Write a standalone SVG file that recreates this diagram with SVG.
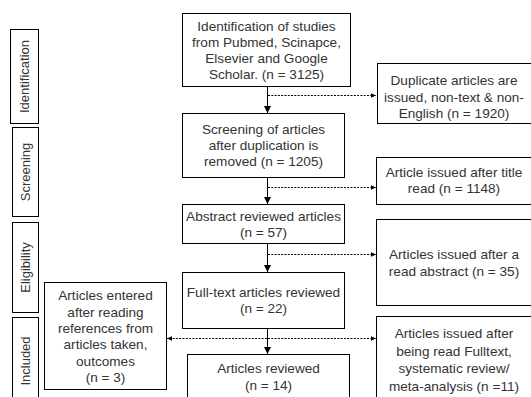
<svg xmlns="http://www.w3.org/2000/svg" width="531" height="397" viewBox="0 0 531 397">
<defs>
<style>
.box{fill:#fff;stroke:#000;stroke-width:1}
.t{font-family:"Liberation Sans",Arial,sans-serif;font-size:13.6px;fill:#333;text-anchor:middle}
.s{font-family:"Liberation Sans",Arial,sans-serif;font-size:13px;fill:#333;text-anchor:middle}
.solid{stroke:#000;stroke-width:1;fill:none}
.dash{stroke:#000;stroke-width:1;fill:none;stroke-dasharray:2 1.3}
</style>
<marker id="ah" markerWidth="8" markerHeight="8" refX="7" refY="4" orient="auto" markerUnits="userSpaceOnUse">
<path d="M0,0.5 L7,4 L0,7.5 Z" fill="#000"/>
</marker>
<marker id="ahs" markerWidth="6" markerHeight="6" refX="5" refY="3" orient="auto" markerUnits="userSpaceOnUse">
<path d="M0,0.8 L5,3 L0,5.2 Z" fill="#000"/>
</marker>
</defs>
<rect width="531" height="397" fill="#fff"/>

<g id="stage-identification">
<rect class="box" x="10.5" y="29.5" width="28" height="94"/>
<text class="s" transform="translate(28.5,76.5) rotate(-90)">Identification</text>
</g>
<g id="stage-screening">
<rect class="box" x="12.5" y="127.5" width="26" height="89"/>
<text class="s" transform="translate(29.5,172) rotate(-90)">Screening</text>
</g>
<g id="stage-eligibility">
<rect class="box" x="12.5" y="222.5" width="26" height="90"/>
<text class="s" transform="translate(29.5,267.5) rotate(-90)">Eligibility</text>
</g>
<g id="stage-included">
<rect class="box" x="12.5" y="317.5" width="26" height="95"/>
<text class="s" transform="translate(29.5,361) rotate(-90)">Included</text>
</g>

<g id="connectors">
<line class="solid" x1="267.5" y1="86" x2="267.5" y2="113" marker-end="url(#ah)"/>
<line class="solid" x1="267.5" y1="177" x2="267.5" y2="204" marker-end="url(#ah)"/>
<line class="solid" x1="267.5" y1="243" x2="267.5" y2="272" marker-end="url(#ah)"/>
<line class="solid" x1="267.5" y1="328" x2="267.5" y2="354" marker-end="url(#ah)"/>
<line class="dash" x1="268" y1="95.5" x2="376" y2="95.5" marker-end="url(#ahs)"/>
<line class="dash" x1="268" y1="187.5" x2="376" y2="187.5" marker-end="url(#ahs)"/>
<line class="dash" x1="268" y1="254.5" x2="376" y2="254.5" marker-end="url(#ahs)"/>
<line class="dash" x1="268" y1="338.5" x2="376" y2="338.5" marker-end="url(#ahs)"/>
<line class="dash" x1="267" y1="338.5" x2="167" y2="338.5" marker-end="url(#ahs)"/>
</g>

<g id="n-identification">
<rect class="box" x="182.5" y="13.5" width="168" height="73"/>
<text class="t" x="266.5" y="30.5">Identification of studies</text>
<text class="t" x="266.5" y="46.5">from Pubmed, Scinapce,</text>
<text class="t" x="266.5" y="62.5">Elsevier and Google</text>
<text class="t" x="266.5" y="78.5">Scholar. (n = 3125)</text>
</g>
<g id="n-screening">
<rect class="box" x="182.5" y="113.5" width="162" height="64"/>
<text class="t" x="263.5" y="134">Screening of articles</text>
<text class="t" x="263.5" y="150">after duplication is</text>
<text class="t" x="263.5" y="166">removed (n = 1205)</text>
</g>
<g id="n-abstract">
<rect class="box" x="182.5" y="204.5" width="162" height="39"/>
<text class="t" x="263.5" y="220.5">Abstract reviewed articles</text>
<text class="t" x="263.5" y="236.5">(n = 57)</text>
</g>
<g id="n-fulltext">
<rect class="box" x="182.5" y="272.5" width="162" height="56"/>
<text class="t" x="263.5" y="296.5">Full-text articles reviewed</text>
<text class="t" x="263.5" y="313">(n = 22)</text>
</g>
<g id="n-reviewed">
<rect class="box" x="187.5" y="354.5" width="162" height="60"/>
<text class="t" x="268.5" y="373">Articles reviewed</text>
<text class="t" x="268.5" y="390">(n = 14)</text>
</g>
<g id="n-duplicate">
<rect class="box" x="377.5" y="63.5" width="160" height="60"/>
<text class="t" x="454" y="85">Duplicate articles are</text>
<text class="t" x="454" y="101.5">issued, non-text &amp; non-</text>
<text class="t" x="454" y="118">English (n = 1920)</text>
</g>
<g id="n-title">
<rect class="box" x="376.5" y="157.5" width="160" height="47"/>
<text class="t" x="454" y="177">Article issued after title</text>
<text class="t" x="454" y="193">read (n = 1148)</text>
</g>
<g id="n-abstract-excl">
<rect class="box" x="376.5" y="219.5" width="160" height="86"/>
<text class="t" x="454" y="259">Articles issued after a</text>
<text class="t" x="454" y="276">read abstract (n = 35)</text>
</g>
<g id="n-fulltext-excl">
<rect class="box" x="376.5" y="316.5" width="160" height="95"/>
<text class="t" x="454" y="338">Articles issued after</text>
<text class="t" x="454" y="355.5">being read Fulltext,</text>
<text class="t" x="454" y="373">systematic review/</text>
<text class="t" x="454" y="390.5">meta-analysis (n =11)</text>
</g>
<g id="n-references">
<rect class="box" x="44.5" y="282.5" width="122" height="107"/>
<text class="t" x="105.5" y="300">Articles entered</text>
<text class="t" x="105.5" y="316.5">after reading</text>
<text class="t" x="105.5" y="333">references from</text>
<text class="t" x="105.5" y="349">articles taken,</text>
<text class="t" x="105.5" y="365.5">outcomes</text>
<text class="t" x="105.5" y="382">(n = 3)</text>
</g>
</svg>
